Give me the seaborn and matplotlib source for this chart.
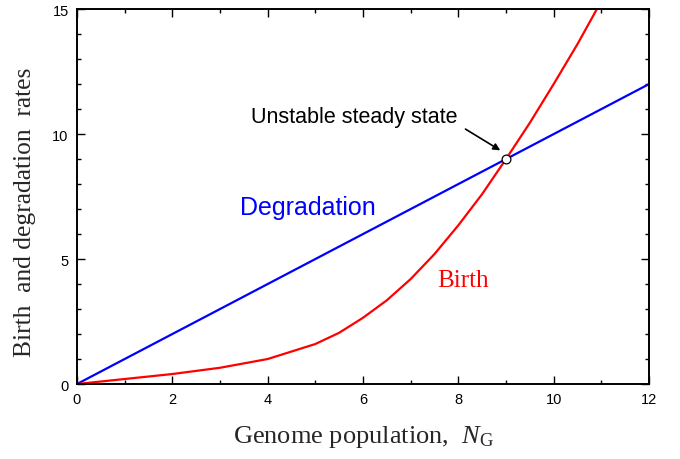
import matplotlib
matplotlib.use("Agg")
import matplotlib.pyplot as plt
import seaborn as sns
import pandas as pd
from matplotlib.ticker import MultipleLocator

sns.set_theme(style="white")
plt.rcParams['font.family'] = ['Liberation Sans', 'DejaVu Sans']
plt.rcParams['mathtext.fontset'] = 'custom'
plt.rcParams['mathtext.rm'] = 'Liberation Serif'
plt.rcParams['mathtext.it'] = 'Liberation Serif:italic'

# Data
deg_x = [0, 12]
deg_y = [0, 12]
birth_x = [0, 1, 2, 3, 4, 4.5, 5, 5.5, 6, 6.5, 7, 7.5, 8, 8.5, 9, 9.5, 10, 10.5, 10.95]
birth_y = [0, 0.2, 0.4, 0.65, 1.0, 1.3, 1.6, 2.05, 2.65, 3.35, 4.2, 5.2, 6.35, 7.6, 9.0, 10.45, 12.0, 13.6, 15.15]
steady_x = [9]
steady_y = [9]
x_ticks = [0, 2, 4, 6, 8, 10, 12]
y_ticks = [0, 5, 10, 15]

fig = plt.figure(figsize=(6.8, 4.6), dpi=100)
ax = fig.add_axes([0.1132, 0.163, 0.8412, 0.815])

sns.lineplot(x=deg_x, y=deg_y, ax=ax, color='#0000ff', linewidth=1.6)
sns.lineplot(x=birth_x, y=birth_y, ax=ax, color='#ff0000', linewidth=1.6)
sns.scatterplot(x=steady_x, y=steady_y, ax=ax, s=40, color='white',
                edgecolor='black', linewidth=0.9, zorder=5)

ax.set_xlim(0, 12)
ax.set_ylim(0, 15)
ax.set_xticks(x_ticks)
ax.set_yticks(y_ticks)
ax.xaxis.set_minor_locator(MultipleLocator(1))
ax.yaxis.set_minor_locator(MultipleLocator(1))
ax.tick_params(which='both', direction='in', top=True, right=True,
               bottom=True, left=True, colors='black', width=1.0)
ax.tick_params(which='major', length=6, labelsize=10.5, pad=6)
ax.tick_params(which='minor', length=3)
for s in ax.spines.values():
    s.set_color('black')
    s.set_linewidth(1.4)

ax.set_xlabel(r'Genome population,  $\mathit{N}_{\mathrm{G}}$',
              family='Liberation Serif', fontsize=19, labelpad=12)
ax.set_ylabel('Birth  and degradation  rates', family='Liberation Serif',
              fontsize=18.4)
ax.yaxis.set_label_coords(-0.072, 0.461)

ax.text(5.81, 10.72, 'Unstable steady state', fontsize=15.5, color='black',
        ha='center', va='center')
ax.annotate('', xy=(8.88, 9.35), xytext=(8.15, 10.2),
            arrowprops=dict(arrowstyle='-|>', color='black', lw=1.2,
                            mutation_scale=10, shrinkA=0, shrinkB=0))
ax.text(4.85, 7.08, 'Degradation', fontsize=18, color='#0000ff',
        ha='center', va='center')
ax.text(8.1, 4.16, 'Birth', fontsize=18, color='#ff0000',
        family='Liberation Serif', ha='center', va='center')

fig.savefig('out.png', dpi=100)
